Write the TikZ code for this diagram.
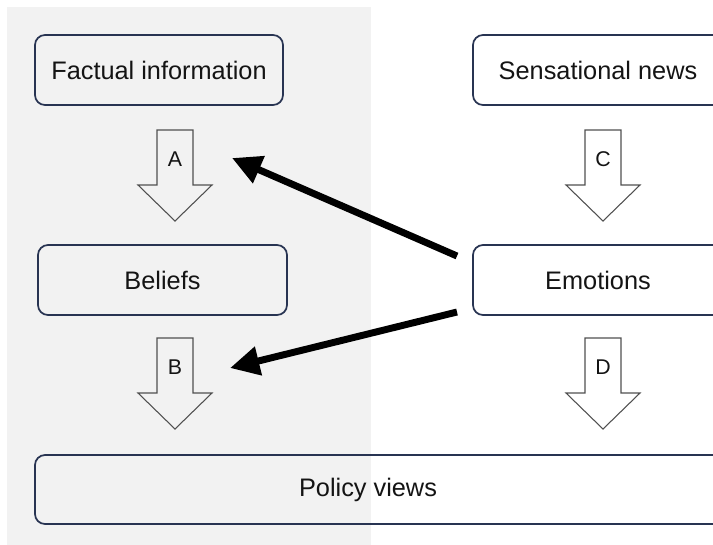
\documentclass[tikz,border=0pt]{standalone}
\usepackage{fontspec}
\setmainfont{Liberation Sans}
\usetikzlibrary{arrows.meta}
\definecolor{panelgrey}{RGB}{242,242,242}
\definecolor{boxedge}{RGB}{40,52,82}
\definecolor{arrowedge}{RGB}{80,80,80}
\definecolor{inktext}{RGB}{20,20,20}

\tikzset{
  box/.style={draw=boxedge,line width=1.3pt,rounded corners=7.5pt,
    inner sep=0pt,minimum height=52.5pt,text=inktext,
    font=\fontsize{19}{22}\selectfont},
  letter/.style={inner sep=0pt,text=inktext,font=\fontsize{16}{18}\selectfont},
  pics/downarrow/.style={code={
    \draw[arrowedge,line width=0.8pt]
      (-18,0) -- (18,0) -- (18,-55) -- (37,-55) -- (0,-91) -- (-37,-55) -- (-18,-55) -- cycle;
    \node[letter] (-lbl) at (0,-29) {#1};
  }},
  push/.style={line width=5.2pt,-{Triangle[length=22pt,width=21pt]}}
}

\begin{document}
\begin{tikzpicture}[x=0.75pt,y=0.75pt,yscale=-1,xscale=1]
\useasboundingbox (0,0) rectangle (713,544);
\clip (0,0) rectangle (713,544);
\fill[panelgrey] (7,7) rectangle (371,550);

% boxes
\node[box,minimum width=186pt] (facts) at (159,70) {Factual information};
\node[box,minimum width=187.5pt] (news) at (598,70) {Sensational news};
\node[box,minimum width=186.75pt] (beliefs) at (162.5,280) {Beliefs};
\node[box,minimum width=187.5pt] (emotions) at (598,280) {Emotions};
\node[box,minimum width=517.5pt,minimum height=51.75pt,
  label={[letter,font=\fontsize{19}{22}\selectfont,xshift=-9pt]center:Policy views}] (policy) at (380,489.5) {};

% block arrows
\pic (arrA) at (175,130) {downarrow=A};
\pic (arrB) at (175,338) {downarrow=B};
\pic (arrC) at (603,130) {downarrow=C};
\pic (arrD) at (603,338) {downarrow=D};

% emotions push on A and B
\coordinate (fromA) at (457,256);
\coordinate (toA) at (232,158);
\coordinate (fromB) at (457,312);
\coordinate (toB) at (230,368);
\draw[push] (fromA) -- (toA);
\draw[push] (fromB) -- (toB);
\end{tikzpicture}
\end{document}
